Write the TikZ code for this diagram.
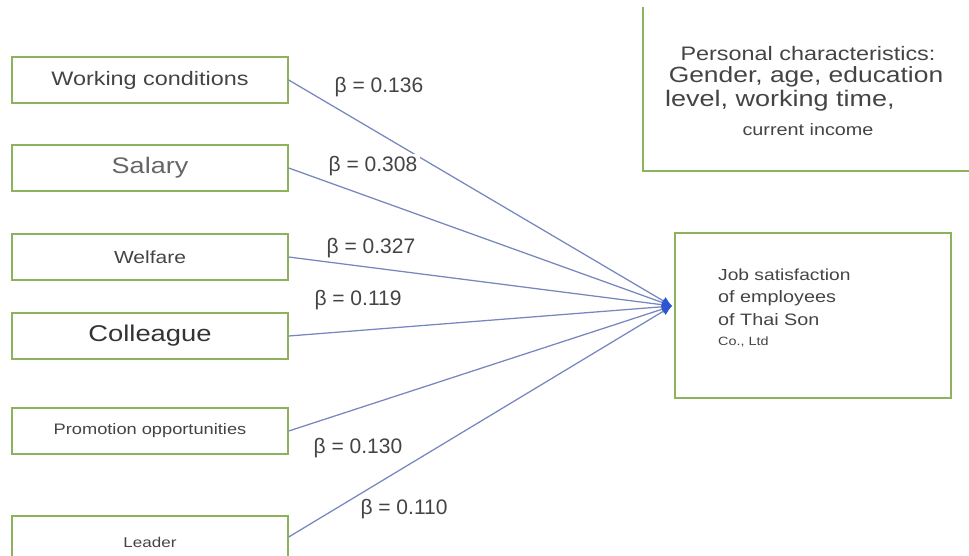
\documentclass[tikz,border=0pt]{standalone}
\usepackage{fontspec}
\setmainfont{Liberation Sans}[FakeStretch=1.2]
\newfontfamily\betafont{Liberation Sans}
\usetikzlibrary{arrows.meta}
\definecolor{boxgreen}{RGB}{140,178,92}
\definecolor{linkblue}{RGB}{118,134,190}
\definecolor{tipblue}{RGB}{45,85,205}
\definecolor{txt}{RGB}{68,68,68}
\newcommand\fsz[1]{\fontsize{#1}{#1}\selectfont}
\begin{document}
\begin{tikzpicture}[x=1pt,y=-1pt,
  factor/.style={draw=boxgreen, line width=1.4pt, minimum width=276pt, minimum height=46pt, inner sep=0pt, text=txt},
  link/.style={draw=linkblue, line width=1.25pt, -{Latex[length=10pt,width=9pt,color=tipblue]}},
  coef/.style={fill=white, inner sep=2.5pt, text=txt, font=\betafont\fsz{21}},
  boxtext/.style={inner sep=0pt, text=txt}]
\useasboundingbox (0,0) rectangle (969,555);
% factor boxes
\node[factor, font=\fsz{19.5}] (wc) at (150,80) {Working conditions};
\node[factor, font=\fsz{22.5}, text=black!60] (sal) at (150,168) {Salary};
\node[factor, font=\fsz{17.5}] (wel) at (150,257) {Welfare};
\node[factor, font=\fsz{22.8}, text=black!80] (col) at (150,336) {Colleague};
\node[factor, font=\fsz{15.2}] (pro) at (150,431) {Promotion opportunities};
\node[factor, font=\fsz{14.2}, minimum height=52pt] (lea) at (150,542) {Leader};
% personal characteristics box
\coordinate (pcTop) at (643,7);
\coordinate (pcCorner) at (643,171);
\coordinate (pcRight) at (970,171);
\draw[draw=boxgreen, line width=1.4pt] (pcTop) -- (pcCorner) -- (pcRight);
\node[boxtext, anchor=base, font=\fsz{19.5}] (pc1) at (808,60) {Personal characteristics:};
\node[boxtext, anchor=base, font=\fsz{22}] (pc2) at (806,82) {Gender, age, education};
\node[boxtext, anchor=base, font=\fsz{22.5}] (pc3) at (780,106) {level, working time,};
\node[boxtext, anchor=base, font=\fsz{16.5}] (pc4) at (808,135) {current income};
% job satisfaction box
\node[draw=boxgreen, line width=1.4pt, minimum width=276pt, minimum height=165pt, inner sep=0pt] (job) at (813,315.5) {};
\node[boxtext, anchor=base west, font=\fsz{16}] (js1) at (718,280) {Job satisfaction};
\node[boxtext, anchor=base west, font=\fsz{16.5}] (js2) at (718,302) {of employees};
\node[boxtext, anchor=base west, font=\fsz{16.5}] (js3) at (718,325) {of Thai Son};
\node[boxtext, anchor=base west, font=\fsz{12}] (js4) at (718,345) {Co., Ltd};
% connectors
\coordinate (tip) at (672,306);
\draw[link] (wc.east) -- (tip);
\draw[link] (sal.east) -- (tip);
\draw[link] (wel.east) -- (tip);
\draw[link] (col.east) -- (tip);
\draw[link] (pro.east) -- (tip);
\draw[link] ([yshift=5pt]lea.east) -- (tip);
% coefficients
\node[coef] (b1) at (379,87) {β = 0.136};
\node[coef] (b2) at (373,166) {β = 0.308};
\node[coef] (b3) at (371,248) {β = 0.327};
\node[coef] (b4) at (358,300) {β = 0.119};
\node[coef] (b5) at (358,448) {β = 0.130};
\node[coef] (b6) at (404,509) {β = 0.110};
\end{tikzpicture}
\end{document}
